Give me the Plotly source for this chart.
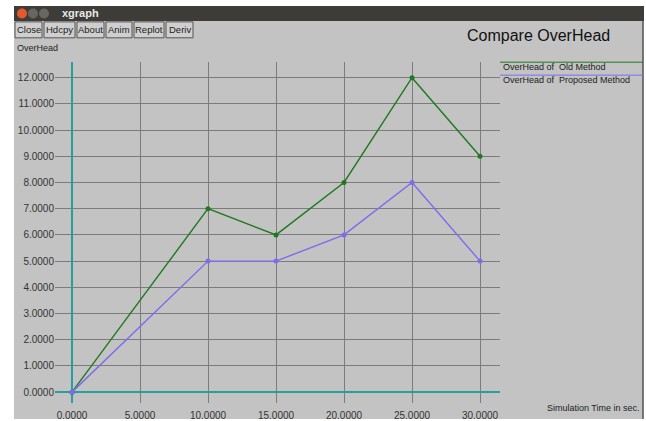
import plotly.graph_objects as go

W, H = 646, 421

# Data
time_sec = [0, 10, 15, 20, 25, 30]
old_method = [0, 7, 6, 8, 12, 9]
proposed_method = [0, 5, 5, 6, 8, 5]
series_names = ["OverHead of  Old Method", "OverHead of  Proposed Method"]
series_colors = ["#1e7a1e", "#7b6cf0"]
buttons = ["Close", "Hdcpy", "About", "Anim", "Replot", "Deriv"]


def px(x):
    return x / W


def py(y):
    return 1 - y / H


FONT = "Liberation Sans, Arial, sans-serif"
BG = "#c3c3c3"

fig = go.Figure()
for name, vals, col in zip(series_names, [old_method, proposed_method], series_colors):
    fig.add_trace(go.Scatter(
        x=time_sec, y=vals, mode="lines+markers", name=name,
        line=dict(color=col, width=1.4),
        marker=dict(color=col, size=5),
        showlegend=False,
    ))

shapes = []
annotations = []

# window body
shapes.append(dict(type="rect", xref="paper", yref="paper", layer="below",
                   x0=px(14), x1=px(643), y0=py(421), y1=py(6),
                   fillcolor=BG, line=dict(width=0)))
# right border
shapes.append(dict(type="line", xref="paper", yref="paper",
                   x0=px(643), x1=px(643), y0=py(421), y1=py(6),
                   line=dict(color="#505050", width=1.5)))
# title bar
shapes.append(dict(type="rect", xref="paper", yref="paper",
                   x0=px(14), x1=px(644), y0=py(21), y1=py(6),
                   fillcolor="#3d3c38", line=dict(width=0)))
for cx, col in [(22, "#e5582b"), (33, "#67665f"), (44, "#67665f")]:
    shapes.append(dict(type="circle", xref="paper", yref="paper",
                       x0=px(cx - 5), x1=px(cx + 5), y0=py(18.5), y1=py(8.5),
                       fillcolor=col, line=dict(width=0)))
annotations.append(dict(text="<b>xgraph</b>", x=px(60), y=py(13.5), xref="paper", yref="paper",
                        xanchor="left", yanchor="middle", showarrow=False,
                        font=dict(family=FONT, size=11, color="#e8e8e8")))

# buttons
btn_x = [(15, 42), (44, 75), (77, 104), (106, 132), (134, 164), (166, 193)]
for label, (a, b) in zip(buttons, btn_x):
    shapes.append(dict(type="rect", xref="paper", yref="paper",
                       x0=px(a), x1=px(b), y0=py(38), y1=py(22),
                       fillcolor="#cfcfcf", line=dict(color="#555555", width=1)))
    annotations.append(dict(text=label, x=px((a + b) / 2), y=py(30), xref="paper", yref="paper",
                            xanchor="center", yanchor="middle", showarrow=False,
                            font=dict(family=FONT, size=9.5, color="#222222")))

# labels
annotations.append(dict(text="OverHead", x=px(15), y=py(48), xref="paper", yref="paper",
                        xanchor="left", yanchor="middle", showarrow=False,
                        font=dict(family=FONT, size=9, color="#222222")))
annotations.append(dict(text="Compare OverHead", x=px(612), y=py(36), xref="paper", yref="paper",
                        xanchor="right", yanchor="middle", showarrow=False,
                        font=dict(family=FONT, size=16, color="#111111")))
annotations.append(dict(text="Simulation Time in sec.", x=px(642), y=py(410), xref="paper", yref="paper",
                        xanchor="right", yanchor="middle", showarrow=False,
                        font=dict(family=FONT, size=9, color="#222222")))

# legend
for i, (name, col) in enumerate(zip(series_names, series_colors)):
    ly = 62.5 + 13 * i
    shapes.append(dict(type="line", xref="paper", yref="paper",
                       x0=px(500), x1=px(643), y0=py(ly), y1=py(ly),
                       line=dict(color=col, width=1)))
    annotations.append(dict(text=name, x=px(501), y=py(ly + 5), xref="paper", yref="paper",
                            xanchor="left", yanchor="middle", showarrow=False,
                            font=dict(family=FONT, size=9, color="#222222")))

fig.update_layout(
    width=W, height=H,
    margin=dict(l=0, r=0, t=0, b=0),
    paper_bgcolor="white",
    plot_bgcolor=BG,
    shapes=shapes,
    annotations=annotations,
    showlegend=False,
    xaxis=dict(domain=[px(55), px(500)], range=[-1.25, 31.47],
               tickmode="array", tickvals=[0, 5, 10, 15, 20, 25, 30], tickformat=".4f",
               showgrid=True, gridcolor="#7c7c7c", gridwidth=1,
               zeroline=True, zerolinecolor="#2a9d9d", zerolinewidth=2,
               showline=False, ticks="", ticklabelstandoff=5,
               tickfont=dict(family=FONT, size=10, color="#333333"),
               fixedrange=True),
    yaxis=dict(domain=[py(405), py(62)], range=[-0.418, 12.61],
               tickmode="array", tickvals=list(range(0, 13)), tickformat=".4f",
               showgrid=True, gridcolor="#7c7c7c", gridwidth=1,
               zeroline=True, zerolinecolor="#2a9d9d", zerolinewidth=2,
               showline=False, ticks="", tickfont=dict(family=FONT, size=10, color="#333333"),
               fixedrange=True),
)

fig.write_html("out.html")
